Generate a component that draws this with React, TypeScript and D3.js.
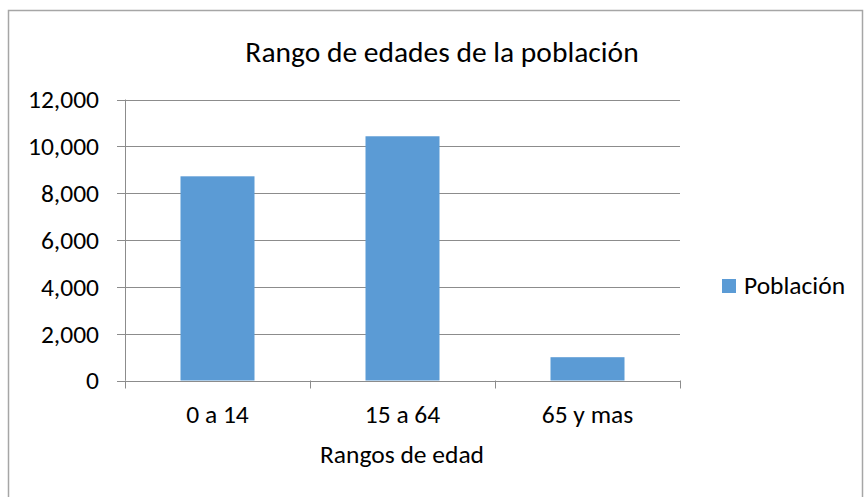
import React, { useEffect, useRef } from "react";
import * as d3 from "d3";

const categories = ["0 a 14", "15 a 64", "65 y mas"];
const poblacion = [8720, 10430, 995];
const yTicks = [0, 2000, 4000, 6000, 8000, 10000, 12000];

const W = 864;
const H = 497;
const FONT = "Calibri, Carlito, Lato, sans-serif";
const FS = 25.5;

const App = () => {
  const svgRef = useRef<SVGSVGElement | null>(null);

  useEffect(() => {
    const root = d3.select(svgRef.current);
    root.selectAll("*").remove();

    const plot = { left: 125, right: 680, top: 99.5, bottom: 380.5 };

    // outer chart border
    root
      .append("rect")
      .attr("x", 8.5)
      .attr("y", 10.5)
      .attr("width", 854)
      .attr("height", H)
      .attr("fill", "white")
      .attr("stroke", "#a6a6a6")
      .attr("stroke-width", 1.5);

    const x = d3
      .scaleBand()
      .domain(categories)
      .range([plot.left, plot.right])
      .paddingInner(0.6)
      .paddingOuter(0.3);

    const y = d3
      .scaleLinear()
      .domain([0, 12000])
      .range([plot.bottom, plot.top]);

    const g = root.append("g");

    // horizontal gridlines + y ticks
    g.selectAll(".grid")
      .data(yTicks)
      .enter()
      .append("line")
      .attr("x1", plot.left - 8)
      .attr("x2", plot.right)
      .attr("y1", (d) => Math.round(y(d)) + 0.5)
      .attr("y2", (d) => Math.round(y(d)) + 0.5)
      .attr("stroke", "#8c8c8c")
      .attr("stroke-width", 1);

    // y axis line
    g.append("line")
      .attr("x1", plot.left + 0.5)
      .attr("x2", plot.left + 0.5)
      .attr("y1", plot.top)
      .attr("y2", plot.bottom)
      .attr("stroke", "#8c8c8c");

    // x category tick marks
    const bounds = [plot.left, ...categories.map((_, i) => plot.left + ((i + 1) * (plot.right - plot.left)) / categories.length)];
    g.selectAll(".xtick")
      .data(bounds)
      .enter()
      .append("line")
      .attr("x1", (d) => Math.round(d) + 0.5)
      .attr("x2", (d) => Math.round(d) + 0.5)
      .attr("y1", plot.bottom)
      .attr("y2", plot.bottom + 8)
      .attr("stroke", "#8c8c8c");

    // bars
    g.selectAll(".bar")
      .data(poblacion)
      .enter()
      .append("rect")
      .attr("x", (_, i) => x(categories[i]) as number)
      .attr("width", x.bandwidth())
      .attr("y", (d) => y(d))
      .attr("height", (d) => y(0) - y(d))
      .attr("fill", "#5b9bd5");

    // y labels
    g.selectAll(".ylab")
      .data(yTicks)
      .enter()
      .append("text")
      .attr("x", 99)
      .attr("y", (d) => y(d))
      .attr("dy", "0.35em")
      .attr("text-anchor", "end")
      .attr("font-family", FONT)
      .attr("font-size", FS)
      .attr("fill", "#000")
      .text((d) => d3.format(",")(d));

    // x labels
    g.selectAll(".xlab")
      .data(categories)
      .enter()
      .append("text")
      .attr("x", (d) => (x(d) as number) + x.bandwidth() / 2)
      .attr("y", 423)
      .attr("text-anchor", "middle")
      .attr("font-family", FONT)
      .attr("font-size", FS)
      .attr("fill", "#000")
      .text((d) => d);

    // axis title
    root
      .append("text")
      .attr("x", 402)
      .attr("y", 463)
      .attr("text-anchor", "middle")
      .attr("font-family", FONT)
      .attr("font-size", FS)
      .attr("fill", "#000")
      .text("Rangos de edad");

    // chart title
    root
      .append("text")
      .attr("x", 442)
      .attr("y", 62)
      .attr("text-anchor", "middle")
      .attr("font-family", FONT)
      .attr("font-size", 29.5)
      .attr("fill", "#000")
      .text("Rango de edades de la población");

    // legend
    root
      .append("rect")
      .attr("x", 722)
      .attr("y", 279)
      .attr("width", 14)
      .attr("height", 14)
      .attr("fill", "#5b9bd5");
    root
      .append("text")
      .attr("x", 744)
      .attr("y", 294)
      .attr("font-family", FONT)
      .attr("font-size", FS)
      .attr("fill", "#000")
      .text("Población");
  }, []);

  return (
    <svg
      ref={svgRef}
      width={W}
      height={H}
      style={{ position: "absolute", left: 0, top: 0, background: "white" }}
    ></svg>
  );
};

export default App;
